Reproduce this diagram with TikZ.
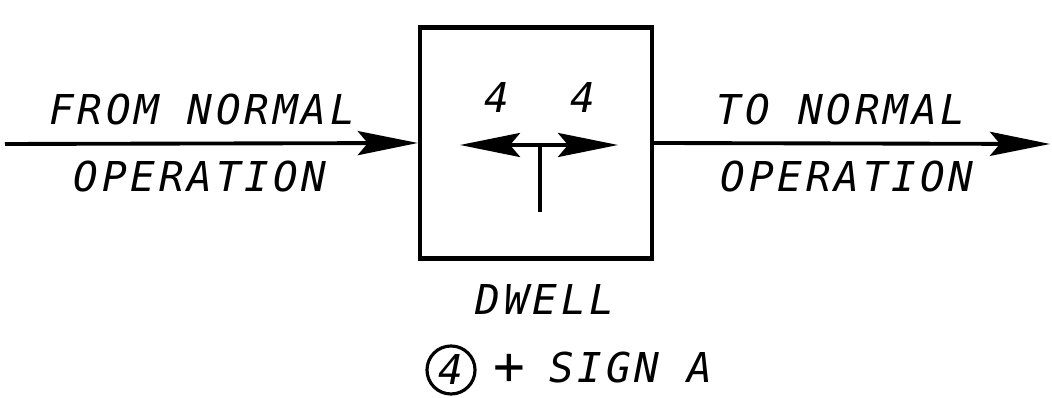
\documentclass[tikz,border=0pt]{standalone}
\usepackage{fontspec}
\newfontfamily\lblfont[LetterSpace=9]{DejaVu Sans Mono}
\usetikzlibrary{arrows.meta}
\tikzset{
  lbl/.style={font=\lblfont\itshape\fontsize{11.7}{14}\selectfont, inner sep=0pt},
  arr/.style={line width=1.1pt, -{Stealth[length=0.6cm, width=0.24cm, inset=0.1cm]}}
}
\begin{document}
\begin{tikzpicture}[x=0.01cm, y=-0.01cm]
\useasboundingbox (0,0) rectangle (1052,398);
    % Draw the box
\node at (536,143) [draw, line width=1.2pt, minimum width=2.32cm, minimum height=2.31cm] (box) {};

% incoming and outgoing lines
\coordinate (in) at (5,144);
\draw[arr] (in) -- (box.west);
\node at (202,110) [lbl] (from1) {FROM NORMAL};
\node at (200,177) [lbl] (from2) {OPERATION};

\coordinate (out) at (1050,144);
\draw[arr] (box.east) -- (out);
\node at (841,110) [lbl] (to1) {TO NORMAL};
\node at (847,177) [lbl] (to2) {OPERATION};

% the dwell symbol inside
\coordinate (tee) at (540,145);
\coordinate (stem) at (540,212);
\coordinate (lt) at (460,145);
\coordinate (rt) at (618,145);
\draw[arr] (tee) -- (lt);
\draw[arr] (tee) -- (rt);
\draw[line width=1.1pt] (stem) -- (tee);
\node at (497,98) [lbl] (n1) {4};
\node at (583,98) [lbl] (n2) {4};

% caption
\node at (545,300) [lbl] (dwell) {DWELL};
\node at (451,370) [lbl, circle, draw, line width=0.9pt, minimum size=0.48cm] (c4) {4};
\node at (509,369) [lbl, font=\lblfont\fontsize{15}{16}\selectfont] (plus) {+};
\node at (631,368) [lbl] (sign) {SIGN A};
\end{tikzpicture}
\end{document}
